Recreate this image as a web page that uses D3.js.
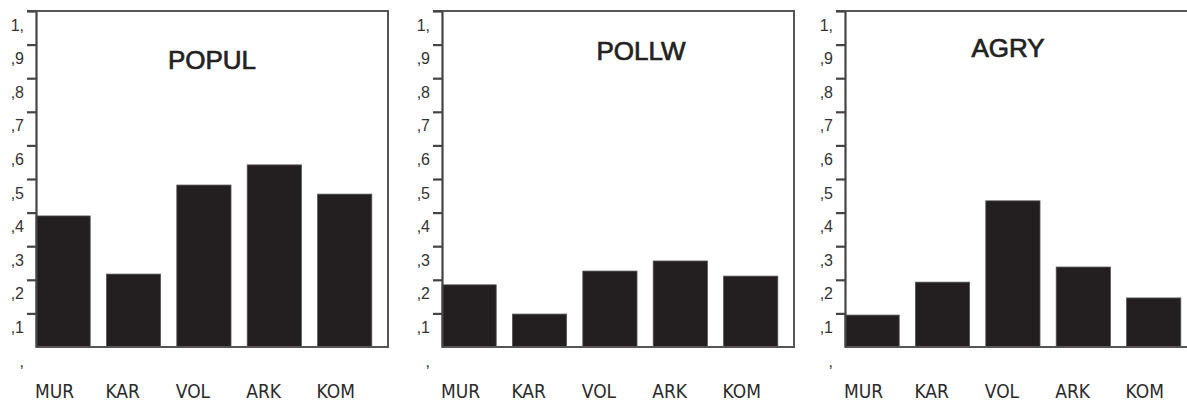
<!DOCTYPE html>
<html>
<head>
<meta charset="utf-8">
<script src="https://cdn.jsdelivr.net/npm/d3@7"></script>
<style>
  body { margin: 0; background: #fff; }
  svg { display: block; }
</style>
</head>
<body>
<div id="chart"></div>
<script>
// region codes and the three indicators
const regions = ["MUR", "KAR", "VOL", "ARK", "KOM"];
const titles = ["POPUL", "POLLW", "AGRY"];
const popul = [0.39, 0.217, 0.482, 0.542, 0.455];
const pollw = [0.185, 0.098, 0.226, 0.256, 0.211];
const agry = [0.095, 0.193, 0.435, 0.238, 0.146];
const yTicks = [0, 0.1, 0.2, 0.3, 0.4, 0.5, 0.6, 0.7, 0.8, 0.9, 1];

const series = [popul, pollw, agry];

// layout of each panel (left edge of axis, title anchor)
const panelLeft = [36, 442, 845];
const titlePos = [[176, 69], [199, 60], [163, 57]];

const width = 1187, height = 401;
const plotW = 352, plotTop = 11, plotBottom = 347;
const tickLen = 9;

const svg = d3.select('#chart')
  .append('svg')
  .attr('width', width)
  .attr('height', height);

svg.append('rect').attr('width', width).attr('height', height).attr('fill', '#fff');

const y = d3.scaleLinear().domain([0, 1]).range([plotBottom, plotTop]);

// 1,0 -> "1,"  0,9 -> ",9"  0,0 -> ","
const fmt = d => d3.format('.1f')(d).replace('.', ',').replace(/^0/, '').replace(/0$/, '');

series.forEach((vals, i) => {
  const x0 = panelLeft[i];
  const g = svg.append('g').attr('transform', `translate(${x0},0)`);

  const x = d3.scaleBand()
    .domain(regions)
    .range([0, plotW])
    .paddingInner(0.23)
    .paddingOuter(0.115)
    .align(0);

  // bars
  g.selectAll('rect.bar')
    .data(vals)
    .enter()
    .append('rect')
    .attr('class', 'bar')
    .attr('x', (d, j) => x(regions[j]))
    .attr('y', d => y(d))
    .attr('width', x.bandwidth())
    .attr('height', d => plotBottom - y(d))
    .attr('fill', '#231f20')
    .attr('stroke', '#555')
    .attr('stroke-width', 0.8);

  // frame: top, right, bottom
  g.append('path')
    .attr('d', `M${-tickLen},${plotTop}H${plotW}V${plotBottom}H0`)
    .attr('fill', 'none')
    .attr('stroke', '#555').attr('stroke-width', 2);

  // y axis
  const yAxis = g.append('g')
    .call(d3.axisLeft(y).tickValues(yTicks).tickFormat(fmt).tickSize(tickLen).tickSizeOuter(0));
  yAxis.select('.domain').attr('stroke', '#444').attr('stroke-width', 2.2);
  yAxis.selectAll('.tick line')
    .attr('stroke', d => d === 0 ? 'none' : '#444')
    .attr('stroke-width', 2.2);
  yAxis.selectAll('.tick text')
    .attr('x', -12)
    .attr('dy', 19)
    .attr('fill', '#333')
    .style('font-family', '"Liberation Sans", Arial, sans-serif')
    .style('font-size', '16px');

  // category labels, left aligned under each bar
  g.selectAll('text.cat')
    .data(regions)
    .enter()
    .append('text')
    .attr('class', 'cat')
    .attr('x', d => x(d) - 1)
    .attr('y', 398)
    .attr('fill', '#2a2a2a')
    .style('font-family', '"DejaVu Sans Condensed", "DejaVu Sans", sans-serif')
    .style('font-size', '19px')
    .text(d => d);

  // title
  g.append('text')
    .attr('x', titlePos[i][0])
    .attr('y', titlePos[i][1])
    .attr('text-anchor', 'middle')
    .attr('fill', '#222')
    .attr('stroke', '#222')
    .attr('stroke-width', 0.7)
    .style('font-family', '"Liberation Sans", Arial, sans-serif')
    .style('font-size', '26px')
    .text(titles[i]);
});
</script>
</body>
</html>
